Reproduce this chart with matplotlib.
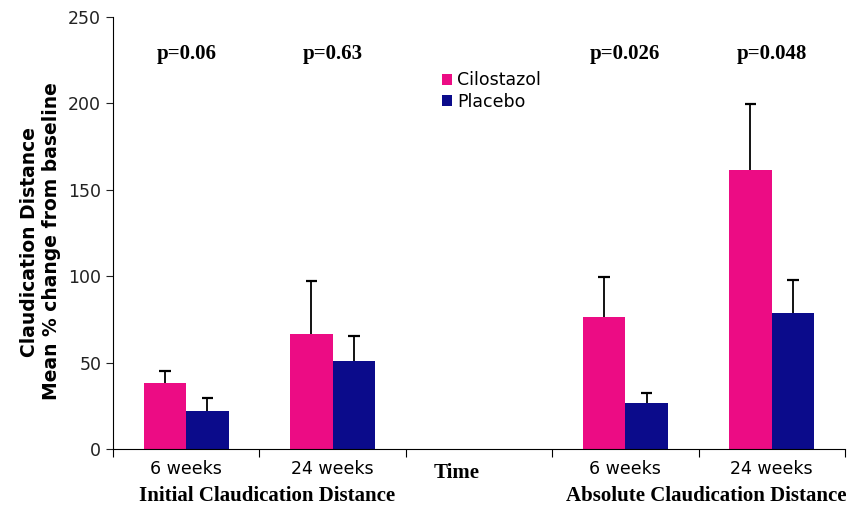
import numpy as np
import matplotlib
matplotlib.use("Agg")
from matplotlib import pyplot as plt

categories = ["6 weeks", "24 weeks", "", "6 weeks", "24 weeks"]
cilostazol = [38, 66.5, np.nan, 76.5, 161.5]
cilostazol_err = [7, 30.5, np.nan, 23, 38]
placebo = [22, 50.7, np.nan, 26.4, 78.7]
placebo_err = [7.5, 14.5, np.nan, 6.2, 19]
p_values = ["p=0.06", "p=0.63", "", "p=0.026", "p=0.048"]
y_ticks = [0, 50, 100, 150, 200, 250]

pink = "#EC0C84"
navy = "#0B0B8B"

fig = plt.figure(figsize=(8.5, 5.09), dpi=100)
ax = fig.add_axes([0.133, 0.118, 0.861, 0.849])

x = np.arange(len(categories))
w = 0.29
ax.bar(x - w / 2, cilostazol, w, color=pink, label="Cilostazol")
ax.bar(x + w / 2, placebo, w, color=navy, label="Placebo")

# upper-only error bars with a cap at the top
for xs, vals, errs in [(x - w / 2, cilostazol, cilostazol_err),
                       (x + w / 2, placebo, placebo_err)]:
    vals = np.array(vals)
    tops = vals + np.array(errs)
    ax.vlines(xs, vals, tops, color="black", lw=1.3, zorder=3)
    ax.hlines(tops, xs - 0.04, xs + 0.04, color="black", lw=1.6, zorder=3)

ax.set_xlim(-0.5, len(categories) - 0.5)
ax.set_ylim(0, 250)
ax.set_yticks(y_ticks)
ax.tick_params(axis="y", labelsize=12.5, direction="out", length=5, colors="#222222")

# ticks between groups, labels at the centres
ax.set_xticks(np.arange(-0.5, len(categories)), minor=False)
ax.set_xticklabels([])
ax.tick_params(axis="x", which="major", direction="out", length=6)
ax.set_xticks(x, minor=True)
ax.set_xticklabels(categories, minor=True, fontsize=12.5)
ax.tick_params(axis="x", which="minor", length=0, pad=8)

for s in ["top", "right"]:
    ax.spines[s].set_visible(False)

for xi, p in zip(x, p_values):
    ax.text(xi, 228.5, p, ha="center", va="center", fontsize=15,
            fontweight="bold", family="Liberation Serif")

ax.set_ylabel("Claudication Distance\nMean % change from baseline",
              fontsize=13.5, fontweight="bold")
ax.yaxis.set_label_coords(-0.071, 0.48)

ax.text(1.85, -14, "Time", ha="center", va="center", fontsize=15,
        fontweight="bold", family="Liberation Serif")
ax.text(0.55, -27.5, "Initial Claudication Distance", ha="center", va="center",
        fontsize=15, fontweight="bold", family="Liberation Serif")
ax.text(3.55, -27.5, "Absolute Claudication Distance", ha="center", va="center",
        fontsize=15, fontweight="bold", family="Liberation Serif")

ax.legend(loc="upper left", bbox_to_anchor=(0.44, 0.89), frameon=False,
          fontsize=12.5, handlelength=0.6, handleheight=0.6, handletextpad=0.25,
          labelspacing=0.2, borderaxespad=0)

fig.savefig("out.png", dpi=100)
